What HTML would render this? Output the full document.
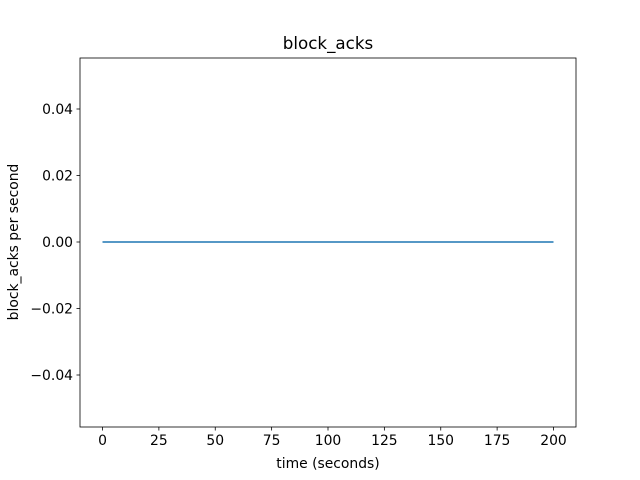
<!DOCTYPE html>
<html><head><meta charset="utf-8"><style>
body{margin:0;background:#fff;}
svg{display:block;font-family:"DejaVu Sans","Liberation Sans",sans-serif;}
</style></head><body>
<svg id="chart" width="640" height="480" viewBox="0 0 640 480" xmlns="http://www.w3.org/2000/svg">
<rect width="640" height="480" fill="#fff"/>
<text x="328" y="49" text-anchor="middle" font-size="16.7">block_acks</text>
<g id="axes"></g>
<text x="328" y="468" text-anchor="middle" font-size="13.9">time (seconds)</text>
<text transform="translate(18,242) rotate(-90)" text-anchor="middle" font-size="13.9">block_acks per second</text>
</svg>
<script>
const times = [0,10,20,30,40,50,60,70,80,90,100,110,120,130,140,150,160,170,180,190,200];
const values = [0,0,0,0,0,0,0,0,0,0,0,0,0,0,0,0,0,0,0,0,0];
const xTicks = [0,25,50,75,100,125,150,175,200];
const yTicks = [-0.04,-0.02,0,0.02,0.04];
const yTickLabels = ["\u22120.04","\u22120.02","0.00","0.02","0.04"];

const L=80,R=576,T=58,B=427;
const x = v => 102.5 + v*(553.5-102.5)/200;
const y = v => 242 - v*3325;
const ns="http://www.w3.org/2000/svg";
const g=document.getElementById('axes');
function mk(tag,attrs){const e=document.createElementNS(ns,tag);for(const k in attrs)e.setAttribute(k,attrs[k]);g.appendChild(e);return e;}
const pts=times.map((t,i)=>x(t)+','+y(values[i])).join(' ');
const line=mk('polyline',{points:pts,fill:'none',stroke:'#1f77b4','stroke-width':1.5});


const frame=mk('rect',{x:L,y:T,width:R-L,height:B-T,fill:'none',stroke:'#000','stroke-width':0.8});


xTicks.forEach(v=>{
  const t=mk('line',{x1:x(v),x2:x(v),y1:B,y2:B+3.5,stroke:'#000','stroke-width':0.8});
  
  
  const l=mk('text',{x:x(v),y:B+18,'text-anchor':'middle','font-size':13.9});
  l.textContent=v;
  
  
});
yTicks.forEach((v,i)=>{
  const t=mk('line',{x1:L-3.5,x2:L,y1:y(v),y2:y(v),stroke:'#000','stroke-width':0.8});
  
  
  const l=mk('text',{x:L-7,y:y(v)+5,'text-anchor':'end','font-size':13.9});
  l.textContent=yTickLabels[i];
  
  
});
</script>
</body></html>
